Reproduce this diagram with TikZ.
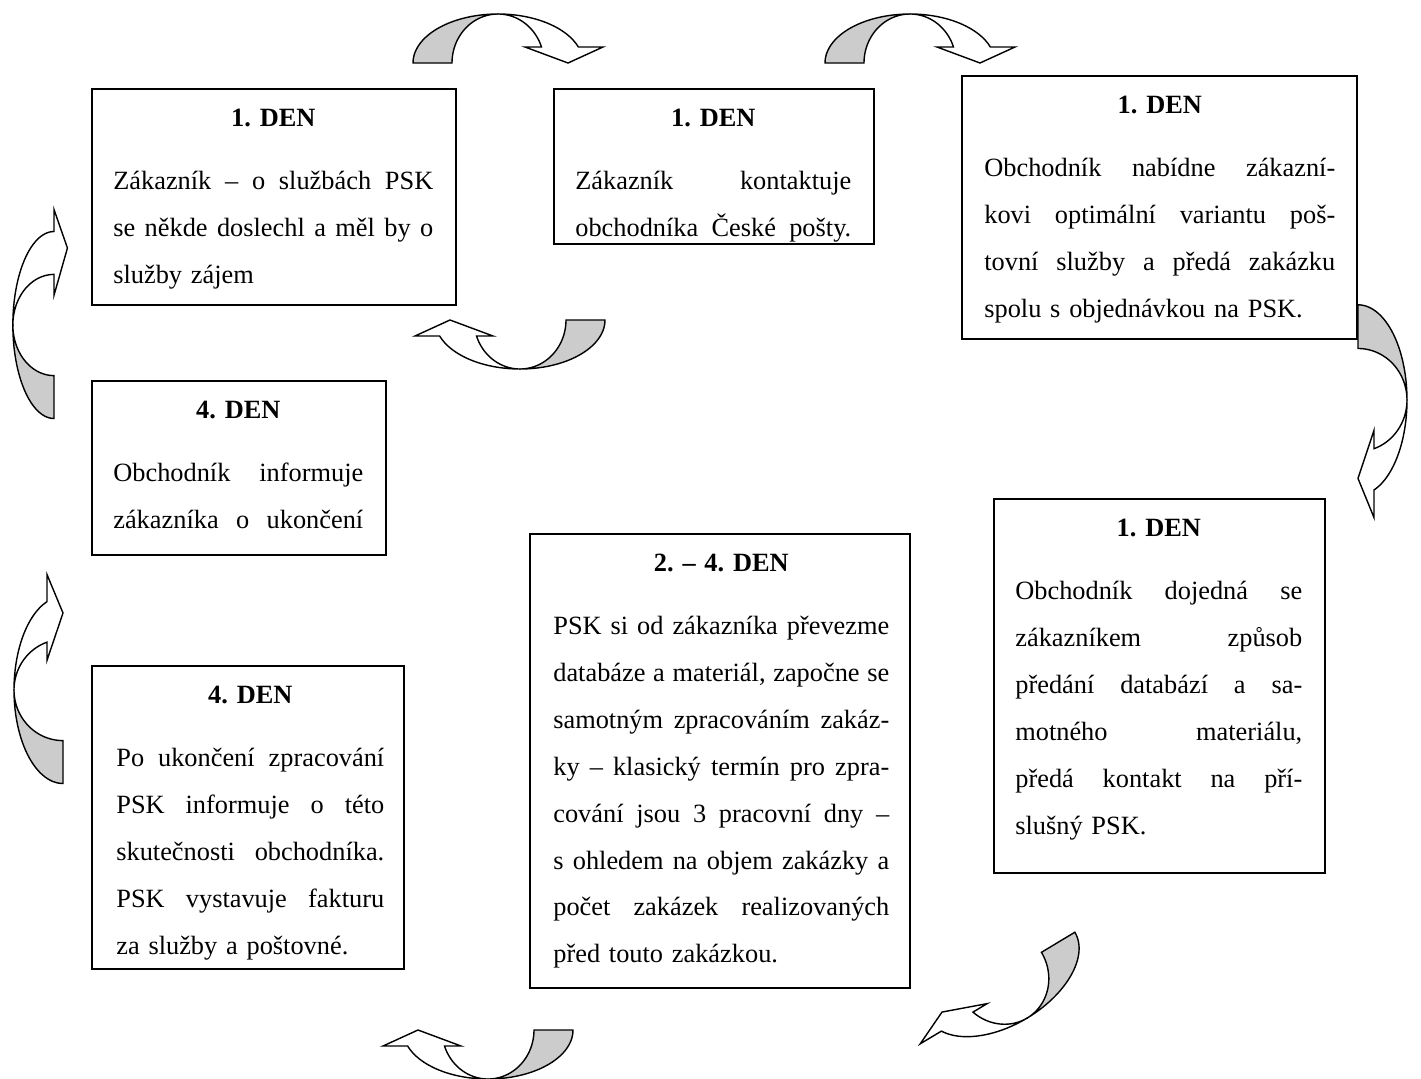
\documentclass[tikz,border=0pt]{standalone}
\usepackage{fontspec}
\setmainfont{Liberation Serif}
\usetikzlibrary{positioning}
\frenchspacing

% radek zarovnany do bloku
\newcommand{\radek}[1]{\leavevmode\hbox to \hsize{\spaceskip=0.25em plus 1fil\relax #1}}
\newcommand{\den}[1]{\makebox[\hsize]{\bfseries #1}\\[9pt]}

\tikzset{
  krabice/.style={draw, line width=1.1pt, anchor=north west, inner sep=0pt},
  popis/.style={inner sep=0pt, font=\fontsize{15pt}{26.7pt}\selectfont},
  sipka/.style={draw=black, line width=0.8pt, line join=miter},
  pics/ohyb/.style={code={
    \pgfmathsetmacro\krk{360-asin(#1/49)}
    \pgfmathsetmacro\hrot{16-#1}
    % rub sipky
    \filldraw[sipka, fill=rubsipky] plot[domain=180:270, samples=30] ({85*cos(\x)},{49*sin(\x)})
      -- plot[domain=270:180, samples=30] ({46*cos(\x)},{49*sin(\x)}) -- cycle;
    % lic sipky
    \filldraw[sipka, fill=white] plot[domain=270:\krk, samples=30] ({85*cos(\x)},{49*sin(\x)})
      -- (105,-#1) -- (70,\hrot) -- (27,-#1)
      -- plot[domain=\krk:270, samples=30] ({46*cos(\x)},{49*sin(\x)}) -- cycle;
  }}
}

\begin{document}
\begin{tikzpicture}[x=0.02cm,y=-0.02cm]

		\definecolor{rubsipky}{HTML}{CCCCCC}

		\useasboundingbox[fill=white] (0,0) rectangle (1421,1079);

		% Krabice
		\node[krabice, minimum width=7.28cm, minimum height=4.32cm] (denA) at (91,88) {};
		\node[krabice, minimum width=6.4cm, minimum height=3.1cm] (denB) at (553,88) {};
		\node[krabice, minimum width=7.9cm, minimum height=5.26cm] (denC) at (961,75) {};
		\node[krabice, minimum width=6.62cm, minimum height=7.48cm] (denD) at (993,498) {};
		\node[krabice, minimum width=7.6cm, minimum height=9.08cm] (denE) at (529,533) {};
		\node[krabice, minimum width=5.88cm, minimum height=3.48cm] (denG) at (91,380) {};
		\node[krabice, minimum width=6.24cm, minimum height=6.06cm] (denF) at (91,665) {};

		% Texty
		\node[popis, text width=6.4cm, below right=0.42cm and 0.44cm of denA.north west] (textA) {\den{1. DEN}
			\radek{Zákazník – o službách PSK}\\ \radek{se někde doslechl a měl by o}\\ služby zájem};
		\begin{scope}
			\clip (553,88) rectangle (873,243);
			\node[popis, text width=5.52cm, below right=0.42cm and 0.44cm of denB.north west] (textB) {\den{1. DEN}
				\radek{Zákazník kontaktuje}\\ \radek{obchodníka České pošty.}};
		\end{scope}
		\node[popis, text width=7.02cm, below right=0.42cm and 0.46cm of denC.north west] (textC) {\den{1. DEN}
			\radek{Obchodník nabídne zákazní-}\\ \radek{kovi optimální variantu poš-}\\
			\radek{tovní služby a předá zakázku}\\ spolu s objednávkou na PSK.};
		\node[popis, text width=5.74cm, below right=0.42cm and 0.44cm of denD.north west] (textD) {\den{1. DEN}
			\radek{Obchodník dojedná se}\\ \radek{zákazníkem způsob}\\ \radek{předání databází a sa-}\\
			\radek{motného materiálu,}\\ \radek{předá kontakt na pří-}\\ slušný PSK.};
		\node[popis, text width=6.72cm, below right=0.42cm and 0.48cm of denE.north west] (textE) {\den{2. – 4. DEN}
			\radek{PSK si od zákazníka převezme}\\ \radek{databáze a materiál, započne se}\\
			\radek{samotným zpracováním zakáz-}\\ \radek{ky – klasický termín pro zpra-}\\
			\radek{cování jsou 3 pracovní dny –}\\ \radek{s ohledem na objem zakázky a}\\
			\radek{počet zakázek realizovaných}\\ před touto zakázkou.};
		\node[popis, text width=5.0cm, below right=0.42cm and 0.44cm of denG.north west] (textG) {\den{4. DEN}
			\radek{Obchodník informuje}\\ \radek{zákazníka o ukončení}};
		\node[popis, text width=5.36cm, below right=0.42cm and 0.5cm of denF.north west] (textF) {\den{4. DEN}
			\radek{Po ukončení zpracování}\\ \radek{PSK informuje o této}\\ \radek{skutečnosti obchodníka.}\\
			\radek{PSK vystavuje fakturu}\\ za služby a poštovné.};

		% Sipky
		\foreach \sx in {498,910} \pic at (\sx,63) {ohyb=16};
		\pic[rotate=180] at (520,320) {ohyb=16};
		\pic[rotate=-90, xscale=1.12] at (1358,400) {ohyb=16};
		\pic[rotate=211] at (1002,976) {ohyb=16};
		\pic[rotate=180] at (488,1030) {ohyb=16};
		\pic[rotate=90, xscale=1.1, yscale=0.84] at (54,325) {ohyb=0};
		\pic[rotate=90, xscale=1.1] at (63,690) {ohyb=16};

\end{tikzpicture}
\end{document}
